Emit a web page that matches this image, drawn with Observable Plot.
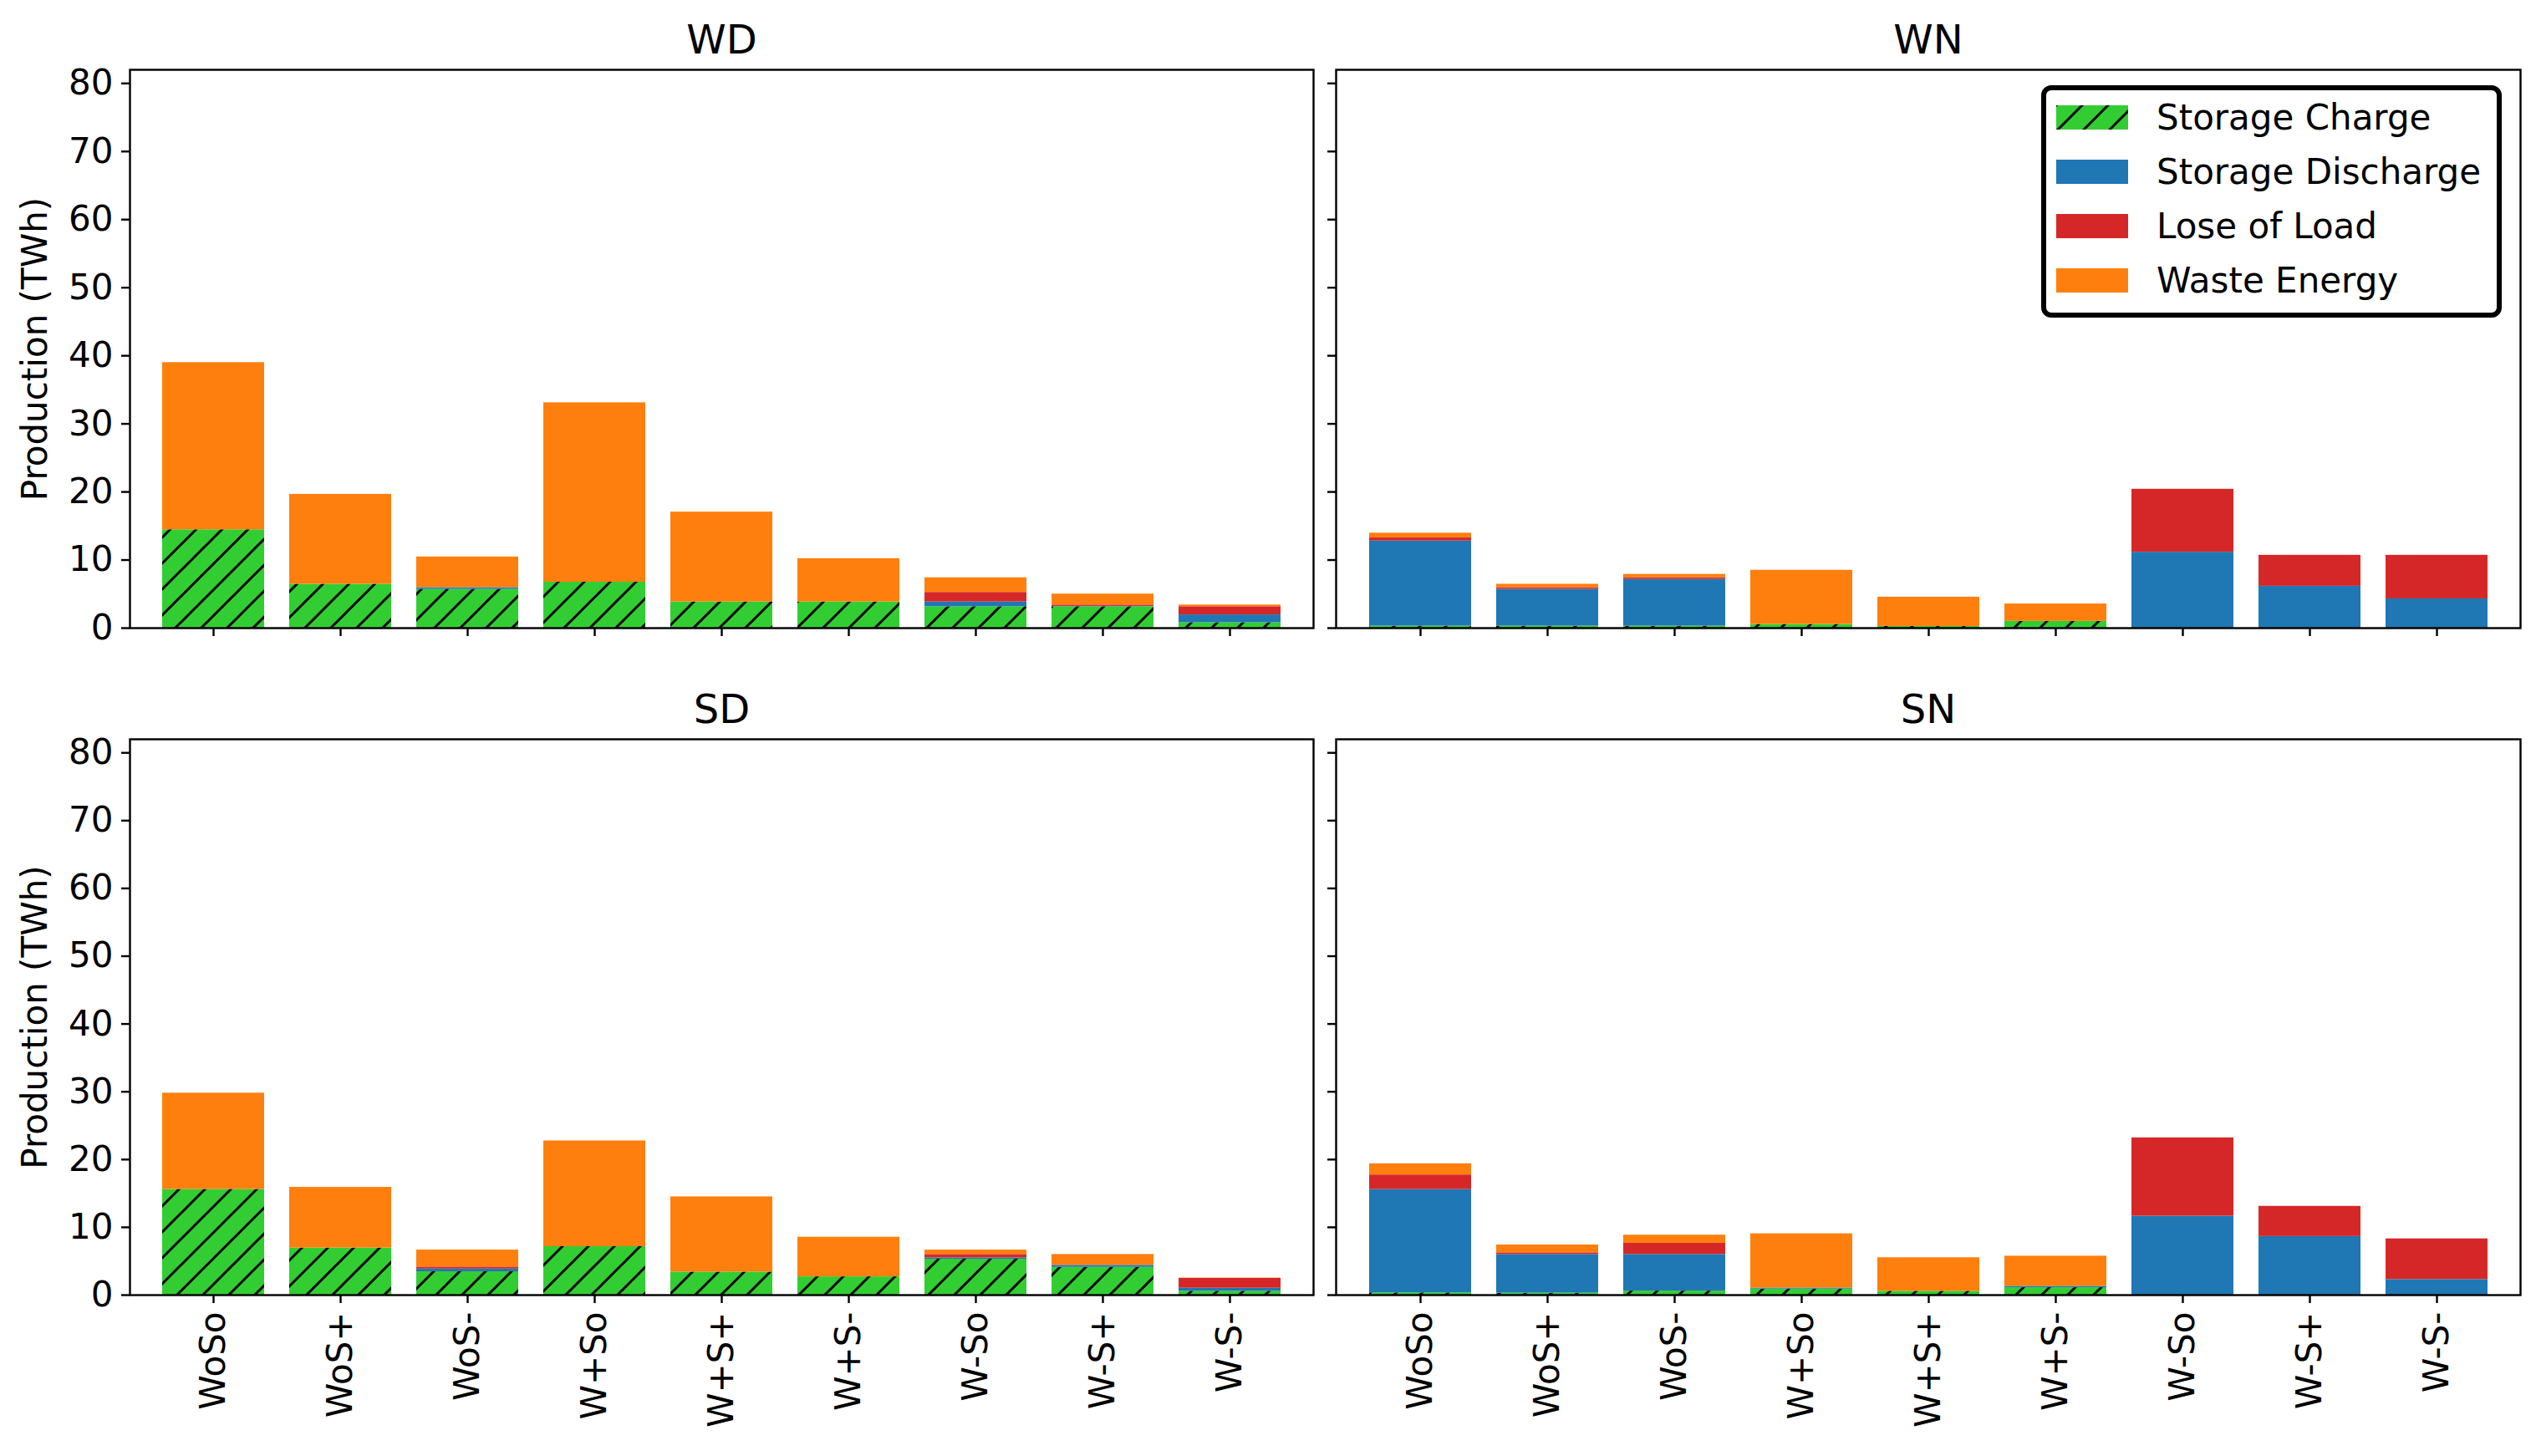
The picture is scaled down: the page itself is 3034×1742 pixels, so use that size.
<!DOCTYPE html>
<html>
<head>
<meta charset="utf-8">
<script src="https://cdn.jsdelivr.net/npm/d3@7"></script>
<script src="https://cdn.jsdelivr.net/npm/@observablehq/plot@0.6"></script>
<style>
  html, body { margin: 0; padding: 0; background: #fff; }
  #fig { position: relative; width: 3034px; height: 1742px; background: #fff; font-family: "DejaVu Sans", sans-serif; overflow: hidden; }
  .panel { position: absolute; }
  #legend { position: absolute; left: 2442px; top: 102px; width: 551px; height: 278px; box-sizing: border-box;
            border: 6px solid #000; border-radius: 12px; background: #fff; }
  .lrow { position: absolute; left: 0; height: 60px; width: 100%; }
  .lsw { position: absolute; left: 12px; top: 15px; width: 86px; height: 29px; }
  .ltx { position: absolute; left: 132px; top: 0; line-height: 60px; font-size: 42px; color: #000; white-space: nowrap; font-family: "DejaVu Sans", sans-serif; }
</style>
</head>
<body>
<svg width="0" height="0" style="position:absolute">
  <defs>
    <pattern id="hatch" patternUnits="userSpaceOnUse" width="31" height="31">
      <rect width="31" height="31" fill="#32cd32"></rect>
      <path d="M-8,8 L8,-8 M0,31 L31,0 M23,39 L39,23" stroke="#000" stroke-width="3"></path>
    </pattern>
  </defs>
</svg>
<div id="fig"></div>
<script>
// ---- data ----
const scenarios = ["WoSo", "WoS+", "WoS-", "W+So", "W+S+", "W+S-", "W-So", "W-S+", "W-S-"];
const seriesNames = ["Storage Charge", "Storage Discharge", "Lose of Load", "Waste Energy"];
const seriesFills = ["url(#hatch)", "#1f77b4", "#d62728", "#ff7f0e"];
const yTicks = [0, 10, 20, 30, 40, 50, 60, 70, 80];
const panelNames = ["WD", "WN", "SD", "SN"];

const WD_charge    = [14.45, 6.45, 5.7, 6.75, 3.85, 3.85, 3.15, 3.15, 0.8];
const WD_discharge = [0, 0, 0.25, 0, 0, 0, 0.7, 0.05, 1.15];
const WD_loss      = [0, 0, 0, 0, 0, 0, 1.4, 0.2, 1.2];
const WD_waste     = [24.55, 13.2, 4.5, 26.35, 13.2, 6.35, 2.15, 1.6, 0.25];

const WN_charge    = [0.3, 0.3, 0.3, 0.55, 0.25, 1.0, 0, 0, 0];
const WN_discharge = [12.5, 5.4, 6.85, 0, 0, 0, 11.15, 6.15, 4.3];
const WN_loss      = [0.45, 0.25, 0.25, 0, 0, 0, 9.25, 4.55, 6.4];
const WN_waste     = [0.7, 0.5, 0.5, 7.95, 4.3, 2.55, 0, 0, 0];

const SD_charge    = [15.6, 6.95, 3.45, 7.15, 3.4, 2.7, 5.3, 4.1, 0.57];
const SD_discharge = [0, 0, 0.4, 0, 0, 0, 0.2, 0.3, 0.45];
const SD_loss      = [0, 0, 0.3, 0, 0, 0, 0.5, 0, 1.45];
const SD_waste     = [14.2, 8.95, 2.5, 15.6, 11.1, 5.85, 0.65, 1.6, 0.05];

const SN_charge    = [0.33, 0.3, 0.6, 0.9, 0.57, 1.1, 0, 0, 0];
const SN_discharge = [15.25, 5.7, 5.4, 0.15, 0, 0.2, 11.65, 8.65, 2.3];
const SN_loss      = [2.15, 0.25, 1.65, 0, 0, 0, 11.55, 4.45, 6.0];
const SN_waste     = [1.65, 1.15, 1.2, 8.0, 4.95, 4.45, 0, 0, 0];

const yLabel = "Production (TWh)";

// ---- drawing ----
function makeRows(charge, discharge, loss, waste) {
  const rows = [];
  const series = [charge, discharge, loss, waste];
  scenarios.forEach((s, i) => {
    series.forEach((arr, k) => rows.push({scenario: s, series: seriesNames[k], value: arr[i]}));
  });
  return rows;
}

function panel(name, data, {left, bottom, pos}) {
  const rows = makeRows(...data);
  const plot = Plot.plot({
    width: pos.width,
    height: pos.height,
    marginLeft: pos.ml,
    marginRight: pos.width - pos.ml - pos.fw,
    marginTop: pos.mt,
    marginBottom: pos.height - pos.mt - pos.fh,
    style: {fontFamily: "DejaVu Sans", fontSize: "42px", background: "white", color: "black", maxWidth: "none"},
    x: {domain: scenarios, paddingInner: 0.2, paddingOuter: 0.255, axis: null},
    y: {domain: [0, 82], axis: null},
    color: {domain: seriesNames, range: seriesFills},
    marks: [
      Plot.barY(rows, {x: "scenario", y: "value", fill: "series", inset: 0}),
      Plot.frame({stroke: "black", strokeWidth: 2.4}),
      Plot.axisY({ticks: yTicks, tickSize: 10, tickPadding: 10, strokeWidth: 2.4, fontSize: 42, label: null,
                  tickFormat: left ? (d => String(d)) : (() => "")}),
      Plot.axisX({tickSize: 10, tickPadding: 10, strokeWidth: 2.4, fontSize: 42, label: null,
                  tickRotate: bottom ? -90 : 0,
                  tickFormat: bottom ? (d => d) : (() => "")}),
      Plot.text([name], {frameAnchor: "top", lineAnchor: "middle", dy: -35, fontSize: 48, fill: "black"}),
      left ? Plot.text([yLabel], {frameAnchor: "left", textAnchor: "middle", lineAnchor: "middle", rotate: -90, dx: -113, fontSize: 42, fill: "black"}) : null
    ]
  });
  const div = document.createElement("div");
  div.className = "panel";
  div.style.left = pos.x + "px";
  div.style.top = pos.y + "px";
  div.style.width = pos.width + "px";
  div.style.height = pos.height + "px";
  div.appendChild(plot);
  return div;
}

const fig = document.getElementById("fig");
fig.appendChild(panel(panelNames[0], [WD_charge, WD_discharge, WD_loss, WD_waste],
  {left: true, bottom: false, pos: {x: 0, y: 0, width: 1580, height: 800, ml: 155, mt: 83, fw: 1416, fh: 668}}));
fig.appendChild(panel(panelNames[1], [WN_charge, WN_discharge, WN_loss, WN_waste],
  {left: false, bottom: false, pos: {x: 1580, y: 0, width: 1454, height: 800, ml: 18, mt: 83, fw: 1417, fh: 668}}));
fig.appendChild(panel(panelNames[2], [SD_charge, SD_discharge, SD_loss, SD_waste],
  {left: true, bottom: true, pos: {x: 0, y: 800, width: 1580, height: 942, ml: 155, mt: 84, fw: 1416, fh: 665}}));
fig.appendChild(panel(panelNames[3], [SN_charge, SN_discharge, SN_loss, SN_waste],
  {left: false, bottom: true, pos: {x: 1580, y: 800, width: 1454, height: 942, ml: 18, mt: 84, fw: 1417, fh: 665}}));

// legend (HTML, built from the series names/fills)
const legend = document.createElement("div");
legend.id = "legend";
const rowTops = [3, 68, 133, 198];
seriesNames.forEach((s, i) => {
  const row = document.createElement("div");
  row.className = "lrow";
  row.style.top = rowTops[i] + "px";
  row.innerHTML = `<svg class="lsw" width="86" height="29"><rect width="86" height="29" fill="${seriesFills[i]}"></rect></svg><span class="ltx">${s}</span>`;
  legend.appendChild(row);
});
fig.appendChild(legend);
</script>
</body>
</html>
